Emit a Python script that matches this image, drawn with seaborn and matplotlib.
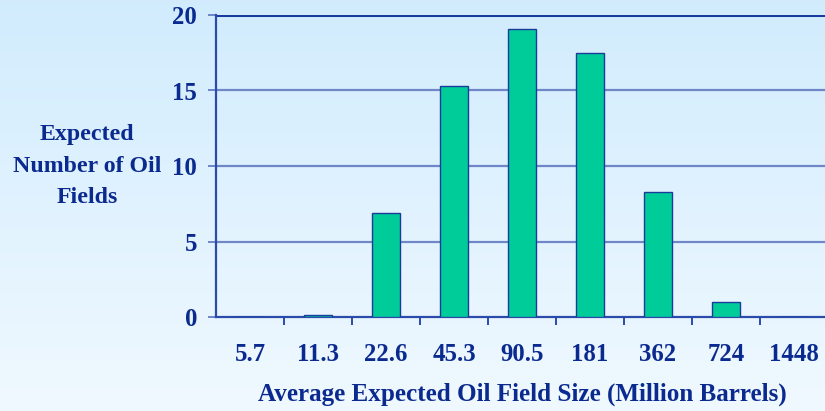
import numpy as np
import pandas as pd
import matplotlib
matplotlib.use("Agg")
import matplotlib.pyplot as plt
import seaborn as sns
from matplotlib.ticker import FixedLocator

categories = ["5.7", "11.3", "22.6", "45.3", "90.5", "181", "362", "724", "1448"]
values = [0.0, 0.1, 6.9, 15.3, 19.1, 17.5, 8.3, 1.0, 0.0]
y_ticks = [0, 5, 10, 15, 20]

df = pd.DataFrame({"size": categories, "count": values})

sns.set_theme(style="white")
plt.rcParams['font.family'] = ['Liberation Serif', 'DejaVu Serif']
plt.rcParams['font.weight'] = 'bold'

TXT = "#0B2A8F"
FS = 17.8
W, H = 825, 411
fig = plt.figure(figsize=(W / 100, H / 100), dpi=100)

# gradient background
bg = fig.add_axes([0, 0, 1, 1], zorder=-10)
top = np.array([0.82, 0.925, 0.995])
bot = np.array([0.94, 0.975, 1.0])
t = np.linspace(0, 1, 256)[:, None]
grad = (top[None, :] * (1 - t) + bot[None, :] * t)[:, None, :]
bg.imshow(grad, aspect="auto", extent=[0, 1, 0, 1])
bg.axis("off")

ax = fig.add_axes([216 / W, 1 - 317 / H, 612 / W, 302 / H])
ax.patch.set_alpha(0)

sns.barplot(data=df, x="size", y="count", order=categories, color="#00CC99",
            width=0.42, edgecolor="#1A3A9C", linewidth=1.0, saturation=1, ax=ax, zorder=3)

ax.set_ylim(0, 20)
ax.set_xlim(-0.5, len(categories) - 0.5)
ax.set_yticks(y_ticks)
ax.set_yticklabels([str(v) for v in y_ticks])
for v in y_ticks[1:]:
    ax.axhline(v, color="#6F86C7" if v < 20 else "#1A3A9C", lw=1.6 if v < 20 else 2.2, zorder=1)

for s in ["top", "right"]:
    ax.spines[s].set_visible(False)
for s in ["left", "bottom"]:
    ax.spines[s].set_color("#2B4BAA")
    ax.spines[s].set_linewidth(1.6)

ax.tick_params(axis="y", direction="out", length=5.5, width=1.4, color="#6F86C7",
               labelsize=FS, labelcolor=TXT, pad=8, left=True)
ax.tick_params(axis="x", which="major", length=0, labelsize=FS, labelcolor=TXT, pad=19, bottom=True)
ax.xaxis.set_minor_locator(FixedLocator(np.arange(0.5, len(categories) - 0.5, 1)))
ax.tick_params(axis="x", which="minor", direction="out", length=5.5, width=1.4,
               color="#2B4BAA", bottom=True)
for lab in ax.get_xticklabels() + ax.get_yticklabels():
    lab.set_fontweight("bold")

ax.set_xlabel("Average Expected Oil Field Size (Million Barrels)", fontsize=FS + 0.3,
              fontweight="bold", color=TXT, labelpad=12)
ax.set_ylabel("")
fig.text(87 / W, 1 - 166 / H, "Expected\nNumber of Oil\nFields", ha="center", va="center",
         fontsize=17.2, fontweight="bold", color=TXT, linespacing=1.68)

fig.savefig("out.png", dpi=100)
